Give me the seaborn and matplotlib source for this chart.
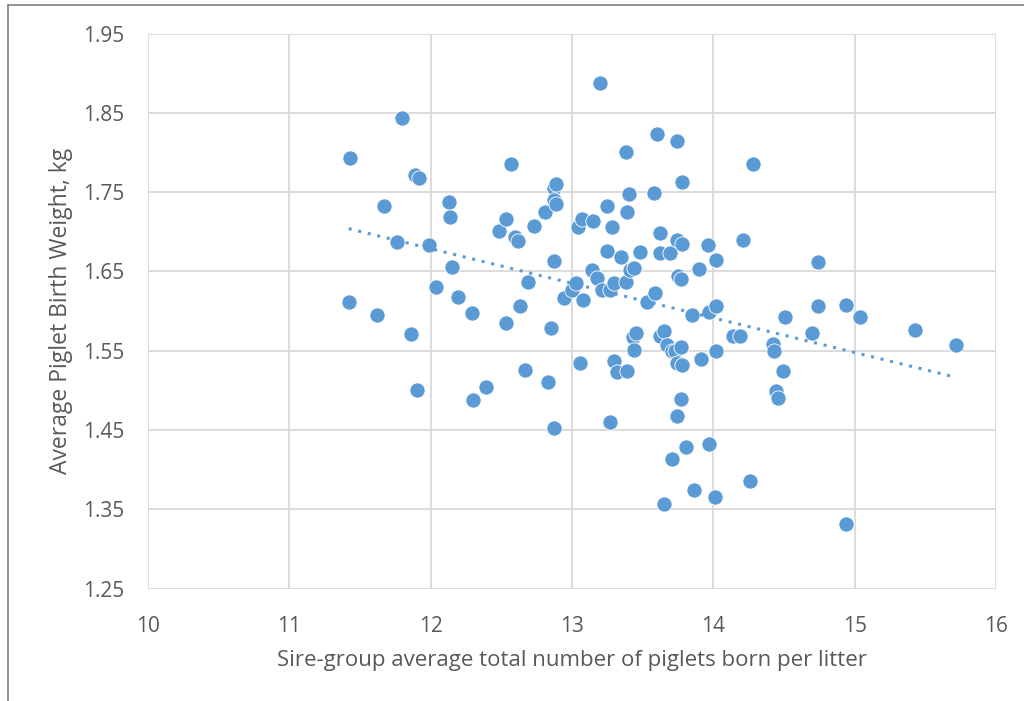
import numpy as np
import pandas as pd
import matplotlib
matplotlib.use("Agg")
import matplotlib.pyplot as plt
import seaborn as sns
from matplotlib.lines import Line2D

# sire-group averages
piglets_born = [
    11.43, 11.42, 11.62, 11.67, 11.80, 11.76, 11.89, 11.92, 11.86, 11.90,
    11.99, 12.04, 12.13, 12.14, 12.15, 12.19, 12.29, 12.30, 12.39, 12.48,
    12.53, 12.53, 12.57, 12.60, 12.62, 12.63, 12.69, 12.67, 12.73, 12.81,
    12.83, 12.85, 12.87, 12.89, 12.87, 12.89, 12.87, 12.87, 12.94, 13.00,
    13.03, 13.04, 13.07, 13.06, 13.08, 13.15, 13.20, 13.14, 13.18, 13.21,
    13.25, 13.25, 13.27, 13.28, 13.30, 13.30, 13.27, 13.32, 13.35, 13.38,
    13.39, 13.40, 13.38, 13.39, 13.41, 13.44, 13.43, 13.45, 13.44, 13.48,
    13.53, 13.59, 13.58, 13.60, 13.62, 13.62, 13.62, 13.65, 13.65, 13.67,
    13.69, 13.71, 13.71, 13.74, 13.74, 13.75, 13.73, 13.74, 13.74, 13.77,
    13.77, 13.77, 13.78, 13.78, 13.78, 13.81, 13.85, 13.86, 13.90, 13.91,
    13.96, 13.97, 13.97, 14.02, 14.02, 14.01, 14.02, 14.14, 14.19, 14.21,
    14.26, 14.28, 14.42, 14.43, 14.44, 14.46, 14.49, 14.51, 14.70, 14.74,
    14.74, 14.94, 14.94, 15.04, 15.43, 15.72,
]
birth_weight = [
    1.793, 1.611, 1.595, 1.732, 1.843, 1.687, 1.771, 1.768, 1.571, 1.500,
    1.683, 1.630, 1.737, 1.719, 1.656, 1.618, 1.597, 1.488, 1.504, 1.701,
    1.716, 1.585, 1.786, 1.694, 1.688, 1.606, 1.637, 1.526, 1.707, 1.725,
    1.510, 1.578, 1.755, 1.760, 1.740, 1.735, 1.663, 1.452, 1.616, 1.626,
    1.635, 1.706, 1.716, 1.534, 1.614, 1.713, 1.888, 1.652, 1.642, 1.626,
    1.733, 1.676, 1.626, 1.706, 1.635, 1.537, 1.460, 1.523, 1.668, 1.800,
    1.725, 1.747, 1.637, 1.525, 1.652, 1.654, 1.567, 1.572, 1.551, 1.675,
    1.612, 1.623, 1.749, 1.823, 1.699, 1.673, 1.569, 1.575, 1.357, 1.557,
    1.673, 1.549, 1.414, 1.815, 1.690, 1.644, 1.549, 1.535, 1.468, 1.555,
    1.640, 1.489, 1.763, 1.685, 1.532, 1.428, 1.595, 1.374, 1.653, 1.539,
    1.683, 1.599, 1.432, 1.606, 1.665, 1.366, 1.550, 1.568, 1.568, 1.690,
    1.386, 1.785, 1.559, 1.549, 1.499, 1.490, 1.525, 1.593, 1.572, 1.606,
    1.662, 1.607, 1.331, 1.593, 1.576, 1.557,
]

x_ticks = [10, 11, 12, 13, 14, 15, 16]
y_ticks = [1.25, 1.35, 1.45, 1.55, 1.65, 1.75, 1.85, 1.95]

df = pd.DataFrame({"born": piglets_born, "weight": birth_weight})

sns.set_style("white")
plt.rcParams["font.family"] = ["Open Sans", "DejaVu Sans"]

blue = "#5B9BD5"
text_grey = "#595959"

fig = plt.figure(figsize=(10.24, 7.01), dpi=100)
ax = fig.add_axes([148 / 1024, 1 - 588.6 / 701, 848 / 1024, 555.1 / 701])

sns.regplot(
    data=df, x="born", y="weight", ax=ax, ci=None,
    scatter_kws=dict(s=120, color=blue, edgecolor="white", linewidths=0.6, alpha=1, zorder=3),
    line_kws=dict(color=blue, linestyle=(0, (1, 2.2)), linewidth=2.2, zorder=4),
)

ax.set_xlim(10, 16)
ax.set_ylim(1.25, 1.95)
ax.set_xticks(x_ticks)
ax.set_yticks(y_ticks)
ax.set_yticklabels([f"{v:.2f}" for v in y_ticks])
ax.grid(True, color="#D9D9D9", linewidth=1.3)
ax.set_axisbelow(True)
for s in ax.spines.values():
    s.set_visible(False)
ax.tick_params(axis="both", length=0, labelsize=15, colors=text_grey)
ax.tick_params(axis="y", pad=17)
ax.tick_params(axis="x", pad=20)

ax.set_xlabel("Sire-group average total number of piglets born per litter",
              fontsize=16, color=text_grey, labelpad=9)
ax.set_ylabel("Average Piglet Birth Weight, kg", fontsize=16.5, color=text_grey, labelpad=7)

# outer frame of the chart box (left and top edges only visible)
fig.add_artist(Line2D([8 / 1024, 8 / 1024], [0, 1 - 5 / 701], color="#7F7F7F", linewidth=1.2))
fig.add_artist(Line2D([8 / 1024, 1], [1 - 5 / 701, 1 - 5 / 701], color="#7F7F7F", linewidth=1.2))

fig.savefig("out.png", dpi=100)
